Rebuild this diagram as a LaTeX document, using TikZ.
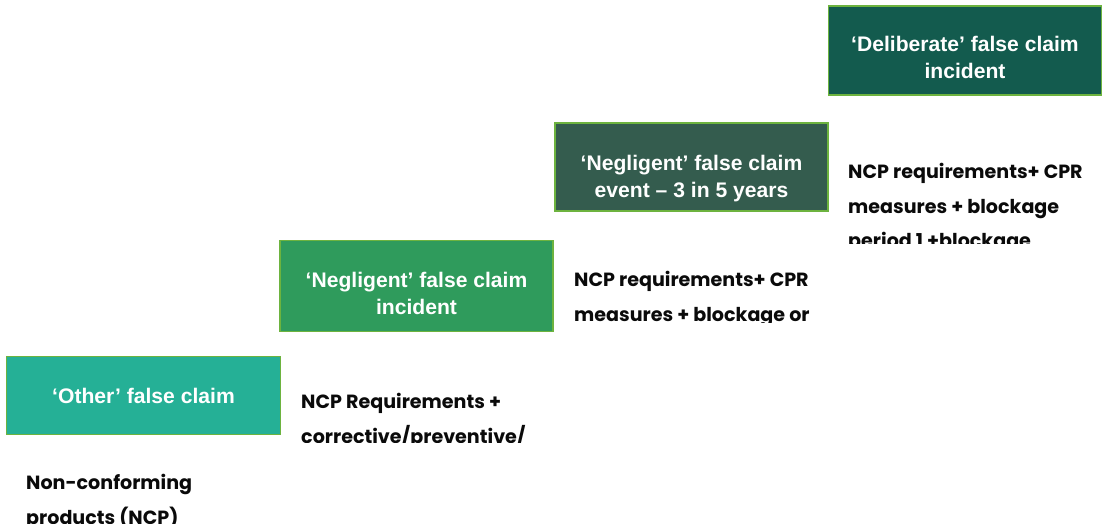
\documentclass[tikz,border=0pt]{standalone}
\usepackage{fontspec}
\setmainfont{Liberation Sans}
\newfontfamily\notefont{Poppins}
\tikzset{
  x=1pt,y=-1pt,
  stepbox/.style={draw=boxedge,line width=1.1pt,inner sep=0pt,minimum height=#1},
  steplabel/.style={text=white,inner sep=0pt,align=center,
    font=\fontsize{21.1}{27}\selectfont\bfseries},
  notetext/.style={anchor=north west,inner sep=0pt,align=left,text=notecol,
    font=\notefont\fontsize{19.1}{34.5}\selectfont\bfseries},
}
\definecolor{boxedge}{HTML}{6DB33F}
\definecolor{notecol}{HTML}{0A0A0A}
\definecolor{boxa}{HTML}{25B096}
\definecolor{boxb}{HTML}{2F9B5C}
\definecolor{boxc}{HTML}{345C4E}
\definecolor{boxd}{HTML}{135B4E}
\begin{document}
\begin{tikzpicture}
\useasboundingbox (0,0) rectangle (1106,531);
\node[stepbox=78pt,fill=boxa,minimum width=274.5pt] (other) at (143.5,395.5) {};
\node[stepbox=91pt,fill=boxb,minimum width=273pt] (neg) at (416.5,286) {};
\node[stepbox=88pt,fill=boxc,minimum width=273pt] (neg3) at (691.5,167) {};
\node[stepbox=89pt,fill=boxd,minimum width=273pt] (delib) at (965,50.5) {};
\node[steplabel] (otherlab) at ([yshift=-0.5pt]other.center) {‘Other’ false claim};
\node[steplabel] (neglab) at ([yshift=-7pt]neg.center) {‘Negligent’ false claim\\incident};
\node[steplabel] (neg3lab) at ([yshift=-12pt]neg3.center) {‘Negligent’ false claim\\event – 3 in 5 years};
\node[steplabel] (deliblab) at ([yshift=-7pt]delib.center) {‘Deliberate’ false claim\\incident};
\begin{scope}
\clip (0,460) rectangle (300,523);
\node[notetext] (ncp) at (26,474) {Non-conforming\\products (NCP)};
\end{scope}
\begin{scope}
\clip (295,380) rectangle (560,442);
\node[notetext] (noteother) at (301,393) {NCP Requirements +\\corrective/preventive/};
\end{scope}
\begin{scope}
\clip (570,260) rectangle (830,322);
\node[notetext] (noteneg) at (574,271) {NCP requirements+ CPR\\measures + blockage or};
\end{scope}
\begin{scope}
\clip (845,150) rectangle (1106,243);
\node[notetext] (noteneg3) at (848,163) {NCP requirements+ CPR\\measures + blockage\\period 1 +blockage};
\end{scope}
\end{tikzpicture}
\end{document}
